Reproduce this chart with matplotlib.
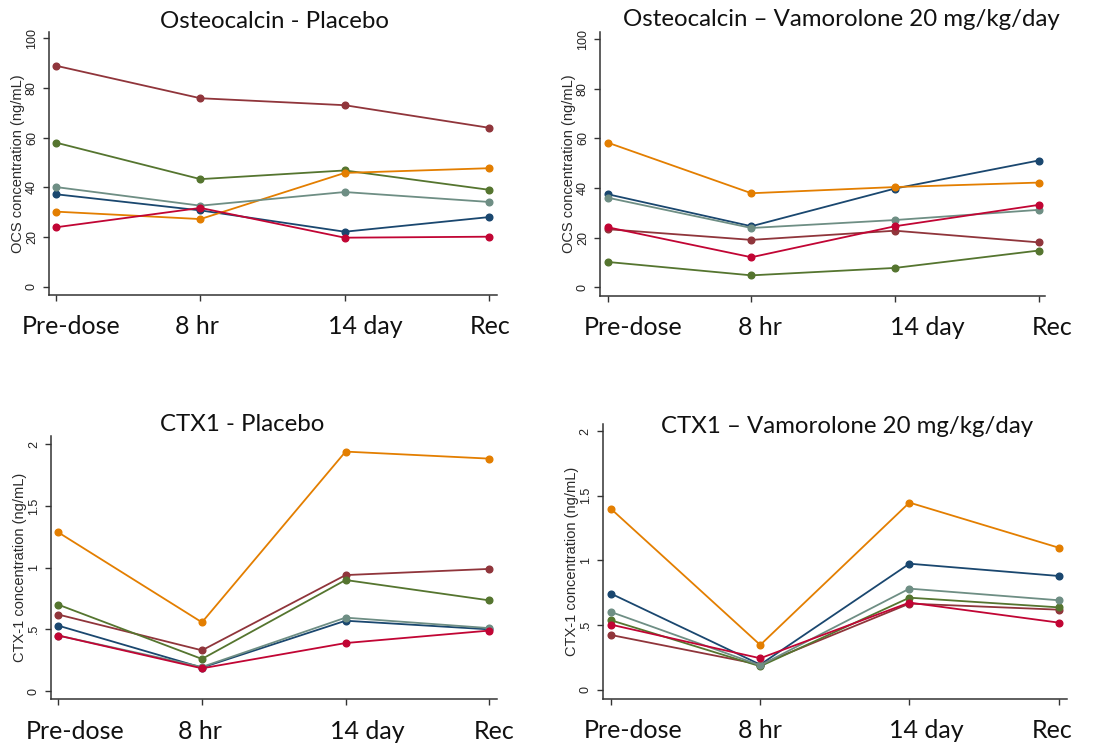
import matplotlib
matplotlib.use("Agg")
import matplotlib.pyplot as plt

timepoints = ["Pre-dose", "8 hr", "14 day", "Rec"]
x = [0, 1, 2, 3]

# Stata s2color order: navy, maroon, forest green, dark orange, teal, cranberry
colors = ["#1a476f", "#90353b", "#55752f", "#e37e00", "#6e8e84", "#c10534"]

ocs_placebo = [
    [37.2, 30.7, 22.1, 28.0],
    [89.0, 75.9, 73.1, 64.0],
    [58.0, 43.3, 46.8, 39.0],
    [30.2, 27.2, 45.8, 47.7],
    [40.1, 32.6, 38.1, 34.1],
    [23.9, 31.7, 19.7, 20.1],
]
ocs_vamorolone = [
    [37.5, 24.6, 39.8, 51.1],
    [23.4, 19.1, 22.8, 18.1],
    [10.2, 4.8, 7.8, 14.8],
    [58.3, 37.9, 40.4, 42.2],
    [36.1, 23.9, 27.1, 31.2],
    [24.2, 12.1, 24.6, 33.2],
]
ctx_placebo = [
    [0.53, 0.19, 0.57, 0.50],
    [0.62, 0.33, 0.94, 0.99],
    [0.70, 0.26, 0.90, 0.735],
    [1.286, 0.557, 1.941, 1.884],
    [0.45, 0.195, 0.595, 0.51],
    [0.45, 0.184, 0.389, 0.49],
]
ctx_vamorolone = [
    [0.743, 0.194, 0.975, 0.880],
    [0.423, 0.194, 0.666, 0.619],
    [0.537, 0.181, 0.712, 0.637],
    [1.399, 0.346, 1.448, 1.099],
    [0.601, 0.188, 0.782, 0.692],
    [0.503, 0.243, 0.674, 0.519],
]

ocs_ticks = [0, 20, 40, 60, 80, 100]
ocs_ticklabels = ["0", "20", "40", "60", "80", "100"]
ctx_ticks = [0, 0.5, 1, 1.5, 2]
ctx_ticklabels = ["0", ".5", "1", "1.5", "2"]

W, H = 1111, 745
fig = plt.figure(figsize=(W / 100, H / 100), dpi=100)


def rect(l, r, t, b):
    return [l / W, 1 - b / H, (r - l) / W, (b - t) / H]


panels = [
    dict(data=ocs_placebo, title="Osteocalcin - Placebo", box=(49, 497, 32, 295),
         xlim=(-0.049, 3.055), ylim=(-3.4, 102.6), ticks=ocs_ticks, tl=ocs_ticklabels,
         ylabel="OCS concentration (ng/mL)", toff=(2, 11), loff=[-34, -25, -17, -19]),
    dict(data=ocs_vamorolone, title="Osteocalcin \u2013 Vamorolone 20 mg/kg/day", box=(600, 1045, 32, 295.7),
         xlim=(-0.054, 3.044), ylim=(-3.4, 102.9), ticks=ocs_ticks, tl=ocs_ticklabels,
         ylabel="OCS concentration (ng/mL)", toff=(19, 12), loff=[-24, -13, -5, -7]),
    dict(data=ctx_placebo, title="CTX1 - Placebo", box=(51, 497, 436.3, 699.3),
         xlim=(-0.051, 3.054), ylim=(-0.067, 2.065), ticks=ctx_ticks, tl=ctx_ticklabels,
         ylabel="CTX-1 concentration (ng/mL)", toff=(-32, 12), loff=[-33, -24, -16, -15]),
    dict(data=ctx_vamorolone, title="CTX1 \u2013 Vamorolone 20 mg/kg/day", box=(602.7, 1066.7, 424.3, 698.7),
         xlim=(-0.056, 3.054), ylim=(-0.07, 2.054), ticks=ctx_ticks, tl=ctx_ticklabels,
         ylabel="CTX-1 concentration (ng/mL)", toff=(12, -2), loff=[-27, -22, -20, -27]),
]

big_font = "Lato"
small_font = "Liberation Sans"

for p in panels:
    ax = fig.add_axes(rect(*p["box"]))
    for vals, c in zip(p["data"], colors):
        ax.plot(x, vals, color=c, lw=1.3, marker="o", ms=4.8, mec=c, mfc=c)
    ax.set_xlim(*p["xlim"])
    ax.set_ylim(*p["ylim"])
    ax.set_xticks(x)
    ax.set_xticklabels([])
    ax.set_yticks(p["ticks"])
    ax.set_yticklabels(p["tl"], rotation=90, va="center", fontsize=9,
                       family=small_font, color="#222222")
    for s in ["top", "right"]:
        ax.spines[s].set_visible(False)
    for s in ["left", "bottom"]:
        ax.spines[s].set_color("#333333")
        ax.spines[s].set_linewidth(1.1)
    ax.tick_params(axis="both", direction="out", length=4.5, width=1.0,
                   color="#333333", pad=3.5)
    ax.set_ylabel(p["ylabel"], fontsize=10.5, family=small_font, color="#2a2a2a", va="center")
    box_w = p["box"][1] - p["box"][0]
    ax.yaxis.set_label_coords(-31 / box_w, 0.5)
    # title
    ax.annotate(p["title"], xy=(0.5, 1), xycoords="axes fraction",
                xytext=p["toff"], textcoords="offset pixels",
                ha="center", va="center", fontsize=17.3, family=big_font, color="#111111")
    # timepoint labels
    for xi, lab, off in zip(x, timepoints, p["loff"]):
        ax.annotate(lab, xy=(xi, 0), xycoords=ax.get_xaxis_transform(),
                    xytext=(off, -32), textcoords="offset pixels",
                    ha="left", va="center", fontsize=18, family=big_font,
                    color="#111111", annotation_clip=False)

fig.savefig("out.png", dpi=100)
